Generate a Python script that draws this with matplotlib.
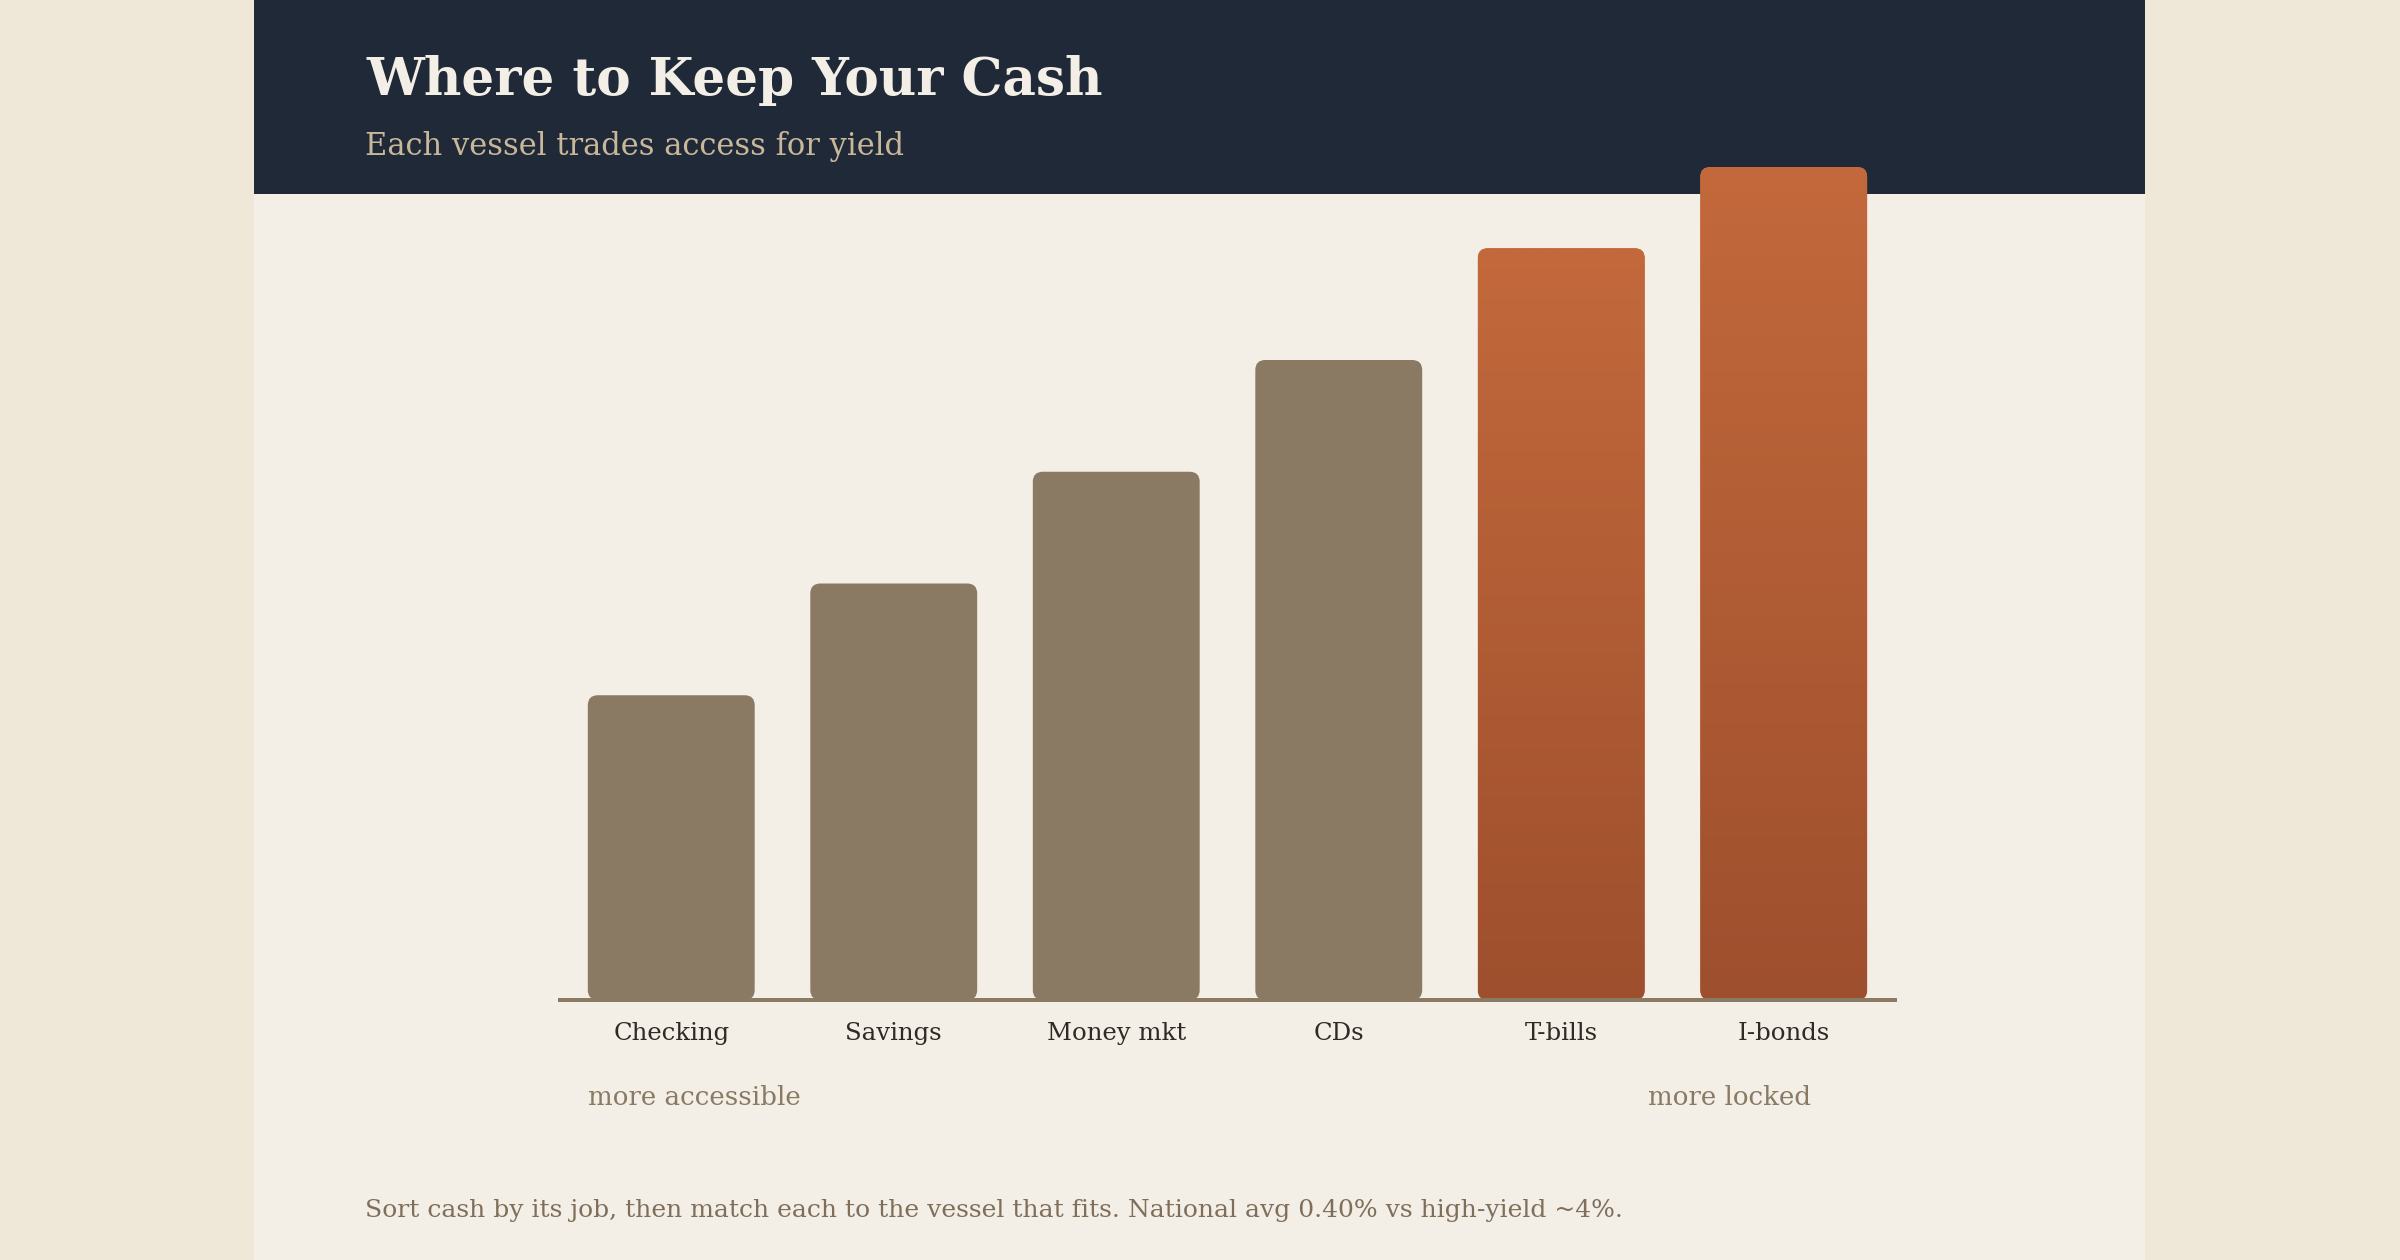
import matplotlib
matplotlib.use("Agg")
import matplotlib.pyplot as plt
from matplotlib.patches import Rectangle, FancyBboxPatch
import matplotlib.colors as mcolors
import numpy as np

categories = ["Checking", "Savings", "Money mkt", "CDs", "T-bills", "I-bonds"]
values = [30, 41, 52, 63, 74, 82]
highlight = [False, False, False, False, True, True]

title = "Where to Keep Your Cash"
subtitle = "Each vessel trades access for yield"
left_note = "more accessible"
right_note = "more locked"
footer = "Sort cash by its job, then match each to the vessel that fits. National avg 0.40% vs high-yield ~4%."

W, H = 2400, 1260
DPI = 200
OUTER_BG = "#EFE7D8"
CARD_BG = "#F3EEE6"
HEADER = "#1F2937"
BROWN = "#8A7A64"
AXIS = "#8B7B63"
GRAD_TOP = "#C3693C"
GRAD_BOT = "#9E4F2D"

plt.rcParams["font.family"] = ["DejaVu Serif"]

fig = plt.figure(figsize=(W / DPI, H / DPI), dpi=DPI)
fig.patch.set_facecolor(OUTER_BG)


def fx(px):
    return px / W


def fy(py):
    return 1 - py / H


# card and header
fig.patches.append(Rectangle((fx(254), 0), fx(1891), 1, transform=fig.transFigure,
                             facecolor=CARD_BG, edgecolor="none", zorder=-2))
fig.patches.append(Rectangle((fx(254), fy(194)), fx(1891), 194 / H, transform=fig.transFigure,
                             facecolor=HEADER, edgecolor="none", zorder=-1))

# plot area: baseline at y=1000px, top of tallest bar at y=167px
ax_l, ax_r, ax_b, ax_t = 560, 1895, 1000, 167
ax = fig.add_axes([fx(ax_l), fy(ax_b), (ax_r - ax_l) / W, (ax_b - ax_t) / H], zorder=2)
ax.patch.set_alpha(0)
ymax = max(values)
ax.set_xlim(-0.5, len(categories) - 0.5)
ax.set_ylim(0, ymax)

x_per_px = len(categories) / (ax_r - ax_l)
y_per_px = ymax / (ax_b - ax_t)
aspect = y_per_px / x_per_px
radius = 10 * x_per_px
bar_w = 0.75

grad = mcolors.LinearSegmentedColormap.from_list("g", [GRAD_BOT, GRAD_TOP])
gimg = np.linspace(0, 1, 256).reshape(-1, 1)

for i, (v, hl) in enumerate(zip(values, highlight)):
    x0 = i - bar_w / 2
    patch = FancyBboxPatch((x0, 0), bar_w, v,
                           boxstyle=f"round,pad=0,rounding_size={radius}",
                           mutation_aspect=aspect,
                           facecolor=GRAD_TOP if hl else BROWN, edgecolor="none",
                           clip_on=False, zorder=1)
    ax.add_patch(patch)
    if hl:
        im = ax.imshow(gimg, cmap=grad, origin="lower", aspect="auto",
                       extent=[x0, x0 + bar_w, 0, v], zorder=1.5, clip_on=True)
        im.set_clip_path(patch)

ax.set_xlim(-0.5, len(categories) - 0.5)
ax.set_ylim(0, ymax)

for s in ["top", "right", "left"]:
    ax.spines[s].set_visible(False)
ax.spines["bottom"].set_color(AXIS)
ax.spines["bottom"].set_linewidth(4 * 72 / DPI)
ax.spines["bottom"].set_zorder(3)
ax.set_yticks([])
ax.set_xticks(range(len(categories)))
ax.set_xticklabels(categories, fontsize=8.8, color="#2E2A25")
ax.tick_params(axis="x", length=0, pad=8)

# text
fig.text(fx(366), fy(95), title, fontsize=18.6, fontweight="bold", color="#F3EEE6", va="baseline")
fig.text(fx(365), fy(155), subtitle, fontsize=11, color="#C9B79A", va="baseline")
fig.text(fx(588), fy(1105), left_note, fontsize=9.4, color=BROWN, va="baseline")
fig.text(fx(1811), fy(1105), right_note, fontsize=9.4, color=BROWN, va="baseline", ha="right")
fig.text(fx(365), fy(1217), footer, fontsize=9.0, color="#7F6F5A", va="baseline")

fig.savefig("out.png", dpi=DPI, facecolor=OUTER_BG)
